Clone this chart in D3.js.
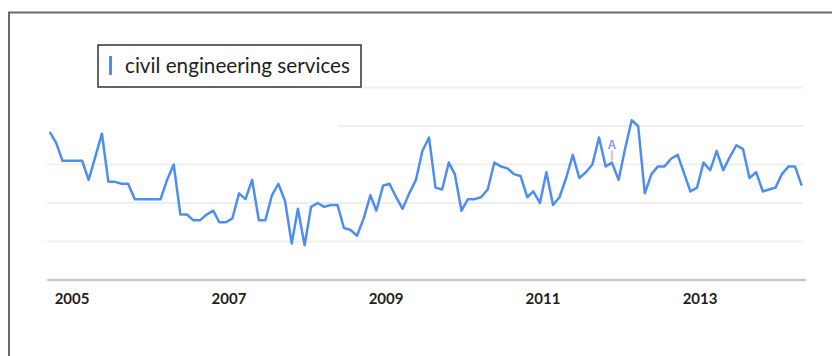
<!DOCTYPE html>
<html>
<head>
<meta charset="utf-8">
<script src="https://cdn.jsdelivr.net/npm/d3@7"></script>
<style>
  html, body { margin: 0; padding: 0; background: #fff; }
  svg { display: block; }
</style>
</head>
<body>
<script>
// ---- data ----
const seriesName = "civil engineering services";
const startMonth = "2005-01";
const values = [
  77, 71, 62, 62, 62, 62, 52, 64, 76, 51, 51, 50,
  50, 42, 42, 42, 42, 42, 52, 60, 34, 34, 31, 31,
  34, 36, 30, 30, 32, 45, 42, 52, 31, 31, 44, 50,
  41, 19, 37, 18, 38, 40, 38, 39, 39, 27, 26, 23,
  32, 44, 36, 49, 50, 43, 37, 45, 52, 67, 74, 48,
  47, 61, 55, 36, 42, 42, 43, 47, 61, 59, 58, 55,
  54, 43, 46, 40, 56, 39, 43, 53, 65, 53, 56, 60,
  74, 59, 61, 52, 68, 83, 80, 45, 55, 59, 59, 63,
  65, 55, 46, 48, 61, 57, 67, 57, 64, 70, 68, 53,
  56, 46, 47, 48, 55, 59, 59, 49
];
const yearLabels = ["2005", "2007", "2009", "2011", "2013"];
const gridValues = [20, 40, 60, 80, 100];
const annotationMonths = ["2012-03"];
const annotationLabels = ["A"];

// ---- setup ----
const W = 832, H = 356;
const svg = d3.select("body").append("svg").attr("width", W).attr("height", H);

const parseMonth = d3.utcParse("%Y-%m");
const start = parseMonth(startMonth);
const months = values.map((_, i) => d3.utcMonth.offset(start, i));
const data = months.map((m, i) => ({ date: m, value: values[i] }));

const x = d3.scaleUtc().domain([months[0], months[months.length - 1]]).range([49.7, 801.7]);
const y = d3.scaleLinear().domain([0, 100]).range([280, 87.5]);

// outer frame (left and top borders)
svg.append("path")
  .attr("d", `M9,${H} L9,12.5 L${W},12.5`)
  .attr("fill", "none").attr("stroke", "#6a6a6a").attr("stroke-width", 2);

// gridlines
svg.append("g").selectAll("line").data(gridValues).join("line")
  .attr("x1", 47).attr("x2", 803)
  .attr("y1", d => y(d)).attr("y2", d => y(d))
  .attr("stroke", "#efefef").attr("stroke-width", 2);

// white masks over the left parts of the two top gridlines (as in reference)
svg.append("rect").attr("x", 40).attr("y", y(80) - 3).attr("width", 298).attr("height", 6).attr("fill", "#fff");
svg.append("rect").attr("x", 40).attr("y", y(100) - 3).attr("width", 322).attr("height", 6).attr("fill", "#fff");

// axis line
svg.append("line")
  .attr("x1", 47).attr("x2", 806).attr("y1", 280).attr("y2", 280)
  .attr("stroke", "#c9c9c9").attr("stroke-width", 2.5);

// year labels
const labelG = svg.append("g");
yearLabels.forEach(t => {
  const cx = Math.max(56, x(Date.UTC(+t, 3, 15)));
  labelG.append("text")
    .attr("x", cx).attr("y", 304)
    .attr("text-anchor", "middle")
    .attr("font-family", "Lato, 'Open Sans', sans-serif")
    .attr("font-weight", 700)
    .attr("font-size", 15)
    .attr("fill", "#1e1e1e")
    .text(t);
});

// annotation
annotationMonths.forEach((m, k) => {
  const d = parseMonth(m);
  const idx = months.findIndex(mm => +mm === +d);
  const px = x(d), py = y(values[idx]);
  svg.append("line").attr("x1", px).attr("x2", px).attr("y1", py - 2).attr("y2", py - 12)
    .attr("stroke", "#cdcdcd").attr("stroke-width", 2.5);
  svg.append("text").attr("x", px).attr("y", py - 14)
    .attr("text-anchor", "middle")
    .attr("font-family", "Arial, 'Liberation Sans', sans-serif")
    .attr("font-weight", 700)
    .attr("font-size", 12)
    .attr("fill", "#8f92f2")
    .text(annotationLabels[k]);
});

// series line
const line = d3.line().x(d => x(d.date)).y(d => y(d.value));
svg.append("path").datum(data)
  .attr("d", line)
  .attr("fill", "none")
  .attr("stroke", "#4d8ef2")
  .attr("stroke-width", 2.5)
  .attr("stroke-linejoin", "round");

// legend
const lg = svg.append("g");
lg.append("rect").attr("x", 98).attr("y", 45).attr("width", 263).attr("height", 42)
  .attr("fill", "#fff").attr("stroke", "#333").attr("stroke-width", 1.5);
lg.append("line").attr("x1", 110.5).attr("x2", 110.5).attr("y1", 56).attr("y2", 75)
  .attr("stroke", "#4d8ef2").attr("stroke-width", 3);
const lt = lg.append("text").attr("x", 125).attr("y", 73)
  .attr("font-family", "Lato, 'Open Sans', sans-serif")
  .attr("font-size", 18)
  .attr("fill", "#222")
  .text(seriesName);
const w = lt.node().getComputedTextLength();
if (w > 0) lt.attr("font-size", 18 * 225 / w);
</script>
</body>
</html>
